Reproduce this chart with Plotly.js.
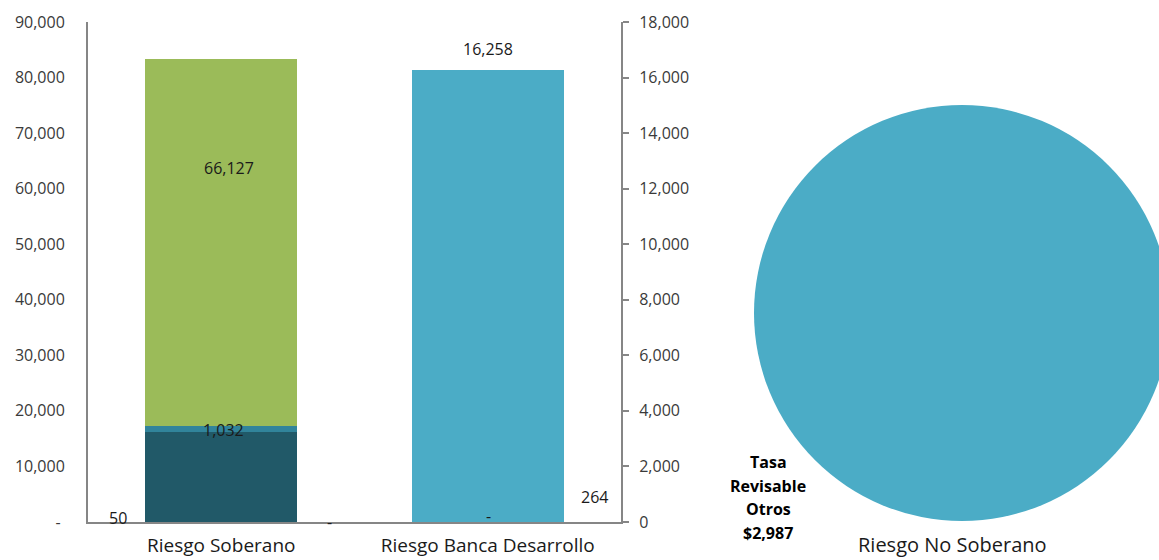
<!DOCTYPE html>
<html>
<head>
<meta charset="utf-8">
<script src="https://cdn.plot.ly/plotly-3.0.1.min.js"></script>
<style>
html,body{margin:0;padding:0;overflow:hidden;background:#fff;}
#chart{width:1180px;height:560px;}
</style>
</head>
<body>
<div id="chart"></div>
<script>
// ---- data ----
const categories = ['Riesgo Soberano', 'Riesgo Banca Desarrollo'];
const soberanoOtros = [50, null];        // tiny segment, label "50"
const soberanoFija = [16150, null];      // dark segment (unlabelled)
const soberanoRevisable = [1032, null];  // thin teal segment
const soberanoVariable = [66127, null];  // green segment
const bancaDesarrollo = [null, 16258];   // right axis
const bancaCero = [null, 0];             // label "-"
const bancaOtros = 264;                  // label only
const soberanoCeroDerecha = 0;           // label "-" between bars
const pieLabels = ['Tasa Revisable Otros'];
const pieValues = [2987];
const pieTitle = 'Riesgo No Soberano';
const leftTicks = [0,10000,20000,30000,40000,50000,60000,70000,80000,90000];
const rightTicks = [0,2000,4000,6000,8000,10000,12000,14000,16000,18000];

// ---- helpers ----
const W = 1180, H = 560;
const fmt = v => v === 0 ? '-' : v.toLocaleString('en-US');
const FONT = '"Open Sans", "Noto Sans", sans-serif';
const AX = '#868686';
const TXT = '#3a3a3a';

const xDom = [88 / W, 621 / W];
const yDom = [38 / H, 538 / H];

const barW = 0.57;
const traces = [
  {type:'bar', x:categories, y:soberanoOtros, name:'Otros', marker:{color:'#215968'}, width:barW, yaxis:'y', hoverinfo:'none'},
  {type:'bar', x:categories, y:soberanoFija, name:'Tasa Fija', marker:{color:'#215968'}, width:barW, yaxis:'y', hoverinfo:'none'},
  {type:'bar', x:categories, y:soberanoRevisable, name:'Tasa Revisable', marker:{color:'#31849B'}, width:barW, yaxis:'y', hoverinfo:'none'},
  {type:'bar', x:categories, y:soberanoVariable, name:'Tasa Variable', marker:{color:'#9BBB59'}, width:barW, yaxis:'y', hoverinfo:'none'},
  {type:'bar', x:categories, y:bancaDesarrollo, name:'Banca Desarrollo', marker:{color:'#4BACC6'}, width:barW, yaxis:'y2', hoverinfo:'none'},
  {type:'bar', x:categories, y:bancaCero, name:'Banca Cero', marker:{color:'#4BACC6'}, width:barW, yaxis:'y2', hoverinfo:'none'},
  {type:'pie', labels:pieLabels, values:pieValues, marker:{colors:['#4BACC6']}, textinfo:'none', sort:false,
   domain:{x:[754 / W, 1170 / W], y:[39 / H, 455 / H]}, hoverinfo:'none', showlegend:false}
];

const labelFont = {family:FONT, size:16, color:'#1a1a1a'};
const annotations = [
  {x:0, y:0, xref:'x', yref:'y', text:fmt(soberanoOtros[0]), showarrow:false, xshift:-103, yshift:4, yanchor:'middle', font:labelFont},
  {x:0, y:soberanoOtros[0] + soberanoFija[0] + soberanoRevisable[0] / 2, xref:'x', yref:'y', text:fmt(soberanoRevisable[0]), showarrow:false, xshift:2, yshift:-1, yanchor:'middle', font:labelFont},
  {x:0, y:63700, xref:'x', yref:'y', text:fmt(soberanoVariable[0]), showarrow:false, xshift:8, yanchor:'middle', font:labelFont},
  {x:0, y:0, xref:'x', yref:'y', text:fmt(soberanoCeroDerecha), showarrow:false, xshift:108, yshift:0, yanchor:'middle', font:labelFont},
  {x:1, y:bancaDesarrollo[1], xref:'x', yref:'y2', text:fmt(bancaDesarrollo[1]), showarrow:false, yshift:8, yanchor:'bottom', font:labelFont},
  {x:1, y:0, xref:'x', yref:'y2', text:fmt(bancaCero[1]), showarrow:false, xshift:1, yshift:6, yanchor:'middle', font:labelFont},
  {x:1, y:0, xref:'x', yref:'y2', text:fmt(bancaOtros), showarrow:false, xshift:107, yshift:25, yanchor:'middle', font:labelFont},
  {x:952 / W, y:(H - 544) / H, xref:'paper', yref:'paper', text:pieTitle, showarrow:false, yanchor:'middle', xanchor:'center', font:{family:FONT, size:20, color:'#1a1a1a'}}
];
// pie slice label, one line per word plus value
const pieLines = pieLabels[0].split(' ').concat(['$' + pieValues[0].toLocaleString('en-US')]);
pieLines.forEach((t, i) => {
  annotations.push({x:768 / W, y:(H - (462 + i * 23.7)) / H, xref:'paper', yref:'paper', text:'<b>' + t + '</b>', showarrow:false,
    xanchor:'center', yanchor:'middle', font:{family:FONT, size:16, color:'#000'}});
});

const layout = {
  width:W, height:H,
  margin:{l:0, r:0, t:0, b:0},
  paper_bgcolor:'#fff', plot_bgcolor:'rgba(0,0,0,0)',
  barmode:'stack', bargap:0, showlegend:false,
  xaxis:{domain:xDom, type:'category', range:[-0.5, 1.5], showline:true, linecolor:AX, linewidth:2,
    ticks:'', showgrid:false, zeroline:false, tickfont:{family:FONT, size:19, color:'#1a1a1a'}, ticklabelstandoff:5, fixedrange:true},
  yaxis:{domain:yDom, range:[0, 90000], showline:true, linecolor:AX, linewidth:2, ticks:'', showgrid:false, zeroline:false,
    tickvals:leftTicks, ticktext:leftTicks.map(v => v === 0 ? '-\u00a0' : fmt(v)), tickfont:{family:FONT, size:16, color:TXT},
    ticklabelstandoff:18, fixedrange:true},
  yaxis2:{overlaying:'y', side:'right', anchor:'x', range:[0, 18000], showline:true, linecolor:AX, linewidth:2,
    ticks:'outside', ticklen:6, tickwidth:2, tickcolor:AX, showgrid:false, zeroline:false,
    tickvals:rightTicks, ticktext:rightTicks.map(v => v === 0 ? '0' : fmt(v)), tickfont:{family:FONT, size:16, color:TXT},
    ticklabelstandoff:7, fixedrange:true},
  yaxis3:{overlaying:'y', side:'right', anchor:'x', range:[0, 18000], showline:false,
    ticks:'inside', ticklen:7, tickwidth:2, tickcolor:AX, showgrid:false, zeroline:false, tickvals:rightTicks, showticklabels:false, fixedrange:true},
  annotations:annotations
};

Plotly.newPlot('chart', traces, layout, {displayModeBar:false, staticPlot:true});
</script>
</body>
</html>
